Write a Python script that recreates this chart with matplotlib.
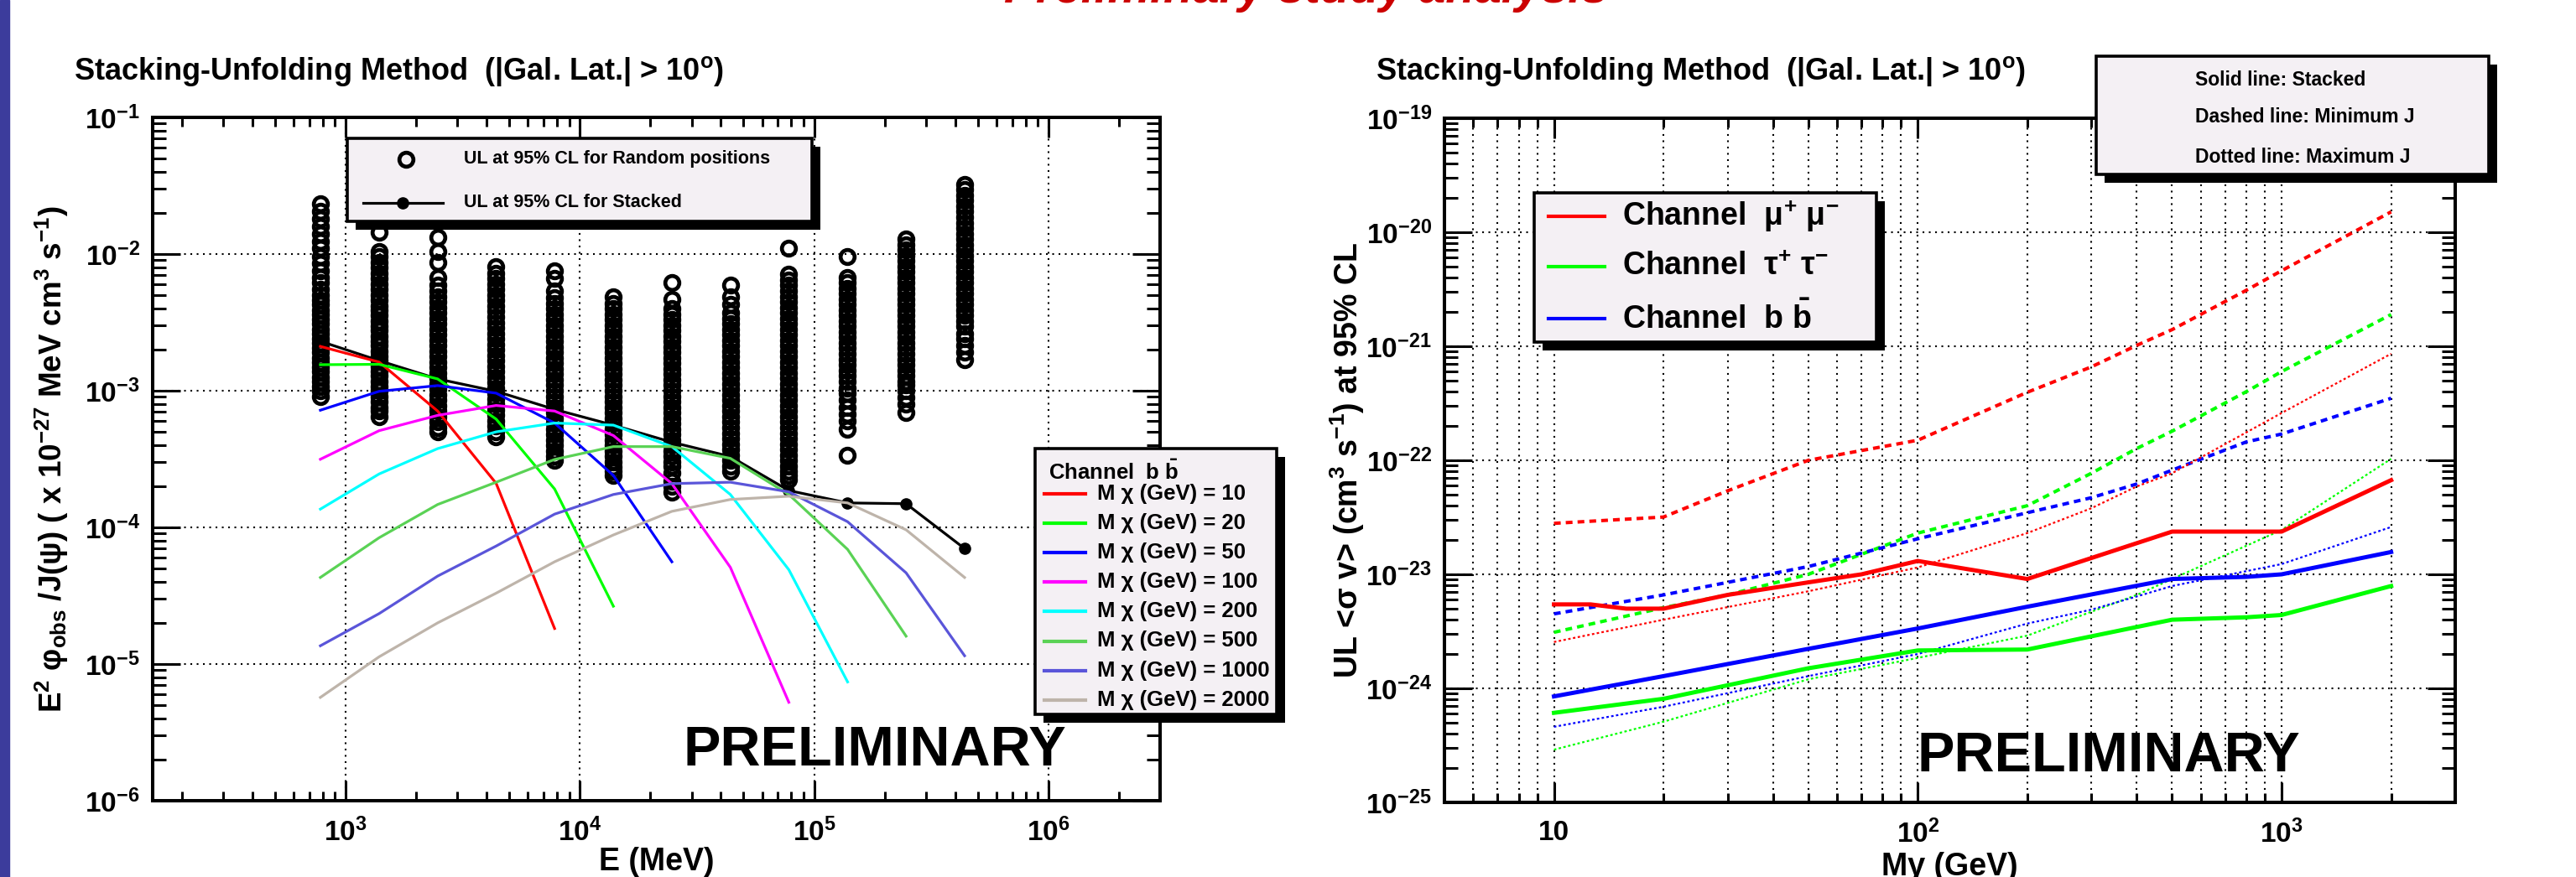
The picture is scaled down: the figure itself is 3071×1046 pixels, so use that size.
import numpy as np
import matplotlib
matplotlib.use('Agg')
import matplotlib.pyplot as plt
from matplotlib.patches import Rectangle
from matplotlib.lines import Line2D
from matplotlib.ticker import FixedLocator, LogLocator, NullFormatter, FuncFormatter

plt.rcParams['font.family'] = ['Liberation Sans', 'DejaVu Sans']
plt.rcParams['font.weight'] = 'bold'
plt.rcParams['axes.labelweight'] = 'bold'
plt.rcParams['mathtext.fontset'] = 'custom'
plt.rcParams['mathtext.rm'] = 'Liberation Sans:bold'
plt.rcParams['mathtext.it'] = 'Liberation Sans:bold'
plt.rcParams['mathtext.bf'] = 'Liberation Sans:bold'
plt.rcParams['mathtext.default'] = 'rm'

# ---------------- left panel: b-bbar spectra vs. UL ----------------
energy = [780, 1390, 2470, 4390, 7800, 13900, 24700, 43900, 78000, 139000, 247000, 439000]

# log10 of the UL for the random sky positions, one column per energy bin
rand_e1 = [-1.63, -1.69, -1.74, -1.80, -1.85, -1.91, -1.96, -2.02, -2.07, -2.12, -2.17, -2.21, -2.26, -2.30,
           -2.34, -2.37, -2.41, -2.44, -2.48, -2.51, -2.55, -2.58, -2.62, -2.65, -2.69, -2.72, -2.76, -2.79,
           -2.83, -2.86, -2.90, -2.93, -2.97, -3.00, -3.04]
rand_e2 = [-1.62, -1.71, -1.84, -1.98, -2.02, -2.06, -2.10, -2.14, -2.18, -2.22, -2.26, -2.30, -2.34, -2.38,
           -2.41, -2.45, -2.49, -2.53, -2.56, -2.60, -2.64, -2.67, -2.71, -2.75, -2.78, -2.82, -2.86, -2.89,
           -2.93, -2.97, -3.00, -3.04, -3.08, -3.12, -3.15, -3.19]
rand_e3 = [-1.88, -1.98, -2.06, -2.17, -2.23, -2.27, -2.31, -2.35, -2.39, -2.43, -2.47, -2.51, -2.55, -2.59,
           -2.63, -2.67, -2.71, -2.75, -2.79, -2.83, -2.87, -2.91, -2.95, -2.99, -3.03, -3.07, -3.11, -3.15,
           -3.19, -3.23, -3.27, -3.30]
rand_e4 = [-2.09, -2.14, -2.18, -2.22, -2.26, -2.30, -2.34, -2.38, -2.42, -2.46, -2.50, -2.54, -2.58, -2.62,
           -2.66, -2.70, -2.74, -2.78, -2.82, -2.86, -2.90, -2.94, -2.98, -3.02, -3.06, -3.10, -3.14, -3.18,
           -3.22, -3.26, -3.30, -3.34]
rand_e5 = [-2.12, -2.18, -2.27, -2.32, -2.36, -2.40, -2.44, -2.48, -2.52, -2.56, -2.60, -2.64, -2.68, -2.72,
           -2.76, -2.80, -2.84, -2.88, -2.92, -2.96, -3.00, -3.04, -3.08, -3.12, -3.16, -3.20, -3.24, -3.28,
           -3.32, -3.36, -3.40, -3.44, -3.48, -3.51]
rand_e6 = [-2.31, -2.36, -2.40, -2.44, -2.48, -2.52, -2.56, -2.60, -2.64, -2.68, -2.72, -2.76, -2.80, -2.84,
           -2.88, -2.92, -2.96, -3.00, -3.04, -3.08, -3.12, -3.16, -3.20, -3.24, -3.28, -3.32, -3.36, -3.40,
           -3.44, -3.48, -3.52, -3.56, -3.59, -3.62]
rand_e7 = [-2.21, -2.33, -2.40, -2.44, -2.48, -2.52, -2.56, -2.60, -2.64, -2.68, -2.72, -2.76, -2.80, -2.84,
           -2.88, -2.92, -2.96, -3.00, -3.04, -3.08, -3.12, -3.16, -3.20, -3.24, -3.28, -3.32, -3.36, -3.40,
           -3.44, -3.48, -3.52, -3.55, -3.60, -3.66, -3.70, -3.74]
rand_e8 = [-2.23, -2.31, -2.37, -2.43, -2.47, -2.51, -2.55, -2.59, -2.63, -2.67, -2.71, -2.75, -2.79, -2.83,
           -2.87, -2.91, -2.95, -2.99, -3.03, -3.07, -3.11, -3.15, -3.19, -3.23, -3.27, -3.31, -3.35, -3.39,
           -3.43, -3.47, -3.51, -3.55, -3.59]
rand_e9 = [-1.96, -2.15, -2.19, -2.23, -2.27, -2.31, -2.35, -2.39, -2.43, -2.47, -2.51, -2.55, -2.59, -2.63,
           -2.67, -2.71, -2.75, -2.79, -2.83, -2.87, -2.91, -2.95, -2.99, -3.03, -3.07, -3.11, -3.15, -3.19,
           -3.23, -3.27, -3.31, -3.35, -3.39, -3.43, -3.47, -3.51, -3.55, -3.59, -3.62, -3.65]
rand_e10 = [-2.02, -2.17, -2.21, -2.25, -2.29, -2.33, -2.37, -2.41, -2.45, -2.49, -2.53, -2.57, -2.61, -2.65,
            -2.69, -2.73, -2.77, -2.81, -2.85, -2.89, -2.93, -2.98, -3.02, -3.07, -3.12, -3.17, -3.22, -3.28,
            -3.47]
rand_e11 = [-1.89, -1.93, -1.97, -2.01, -2.05, -2.09, -2.13, -2.17, -2.21, -2.25, -2.29, -2.33, -2.37, -2.41,
            -2.45, -2.49, -2.53, -2.57, -2.61, -2.65, -2.69, -2.73, -2.77, -2.81, -2.85, -2.89, -2.93, -2.96,
            -3.00, -3.05, -3.10, -3.16]
rand_e12 = [-1.49, -1.53, -1.57, -1.61, -1.65, -1.69, -1.73, -1.77, -1.81, -1.85, -1.89, -1.93, -1.97, -2.01,
            -2.05, -2.09, -2.13, -2.17, -2.21, -2.25, -2.29, -2.33, -2.37, -2.41, -2.45, -2.49, -2.53, -2.58,
            -2.62, -2.67, -2.72, -2.77]
rand_cols = [rand_e1, rand_e2, rand_e3, rand_e4, rand_e5, rand_e6,
             rand_e7, rand_e8, rand_e9, rand_e10, rand_e11, rand_e12]

stacked_ul = [2.30e-3, 1.66e-3, 1.22e-3, 9.9e-4, 7.3e-4, 5.6e-4, 4.2e-4, 3.3e-4, 1.86e-4, 1.51e-4, 1.49e-4, 7.0e-5]

bb_masses = [10, 20, 50, 100, 200, 500, 1000, 2000]
bb_colors = ['#ff0000', '#00ff00', '#0000ff', '#ff00ff', '#00ffff', '#5ad255', '#5a55d9', '#beb4aa']
bb_m10 = [2.11e-3, 1.62e-3, 7.1e-4, 2.1e-4, 1.82e-5]
bb_m20 = [1.55e-3, 1.56e-3, 1.22e-3, 6.2e-4, 1.91e-4, 2.65e-5]
bb_m50 = [7.2e-4, 9.9e-4, 1.09e-3, 9.6e-4, 5.8e-4, 2.4e-4, 5.6e-5]
bb_m100 = [3.15e-4, 5.1e-4, 6.6e-4, 7.8e-4, 7.1e-4, 4.7e-4, 2.09e-4, 5.1e-5, 5.25e-6]
bb_m200 = [1.36e-4, 2.46e-4, 3.77e-4, 5.0e-4, 5.8e-4, 5.6e-4, 3.9e-4, 1.74e-4, 4.9e-5, 7.4e-6]
bb_m500 = [4.3e-5, 8.4e-5, 1.47e-4, 2.14e-4, 3.14e-4, 3.9e-4, 3.9e-4, 3.2e-4, 1.74e-4, 6.9e-5, 1.6e-5]
bb_m1000 = [1.36e-5, 2.34e-5, 4.4e-5, 7.3e-5, 1.25e-4, 1.74e-4, 2.09e-4, 2.14e-4, 1.82e-4, 1.1e-4, 4.65e-5, 1.15e-5]
bb_m2000 = [5.7e-6, 1.13e-5, 2.0e-5, 3.3e-5, 5.6e-5, 8.8e-5, 1.31e-4, 1.6e-4, 1.69e-4, 1.51e-4, 9.6e-5, 4.3e-5]
bb_spectra = [bb_m10, bb_m20, bb_m50, bb_m100, bb_m200, bb_m500, bb_m1000, bb_m2000]

# ---------------- right panel: <sigma v> limits ----------------
mass_mumu = [10, 12.6, 15.8, 20, 30, 50, 70, 100, 200, 500, 1000, 2000]
ul_mumu = [5.45e-24, 5.45e-24, 5.0e-24, 5.0e-24, 6.6e-24, 8.5e-24, 1.0e-23, 1.31e-23, 9.1e-24, 2.37e-23, 2.37e-23, 6.7e-23]
mass_stack = [10, 20, 50, 100, 200, 500, 800, 1000, 2000]
ul_tautau = [6.1e-25, 8.1e-25, 1.5e-24, 2.15e-24, 2.19e-24, 4.0e-24, 4.2e-24, 4.4e-24, 7.9e-24]
ul_bb = [8.5e-25, 1.28e-24, 2.22e-24, 3.35e-24, 5.2e-24, 9.1e-24, 9.5e-24, 1.0e-23, 1.57e-23]

mass_j = [10, 20, 30, 50, 100, 200, 300, 400, 500, 800, 1000, 2000]
minj_mumu = [2.8e-23, 3.18e-23, 5.4e-23, 1.0e-22, 1.5e-22, 3.95e-22, 6.6e-22, 1.02e-21, 1.4e-21, 3.1e-21, 4.6e-21, 1.51e-20]
minj_tautau = [3.1e-24, 5.1e-24, 6.6e-24, 1.0e-23, 2.3e-23, 4.0e-23, 7.7e-23, 1.27e-22, 1.8e-22, 4.0e-22, 6.0e-22, 1.9e-21]
minj_bb = [4.5e-24, 6.6e-24, 8.5e-24, 1.17e-23, 2.05e-23, 3.47e-23, 4.7e-23, 6.2e-23, 8.2e-23, 1.45e-22, 1.7e-22, 3.5e-22]

mass_maxj = [10, 20, 50, 100, 200, 300, 400, 500, 1000, 2000]
maxj_mumu = [2.55e-24, 4.0e-24, 7.1e-24, 1.15e-23, 2.3e-23, 3.8e-23, 5.9e-23, 7.7e-23, 2.6e-22, 8.6e-22]
maxj_tautau = [2.9e-25, 5.1e-25, 1.2e-24, 1.85e-24, 2.9e-24, 4.7e-24, 6.6e-24, 9.1e-24, 2.45e-23, 1.03e-22]
maxj_bb = [4.6e-25, 6.9e-25, 1.28e-24, 2.0e-24, 3.7e-24, 4.9e-24, 6.4e-24, 7.9e-24, 1.23e-23, 2.6e-23]

# ---------------- figure ----------------
W, H = 3071, 1046
fig = plt.figure(figsize=(W / 100, H / 100), dpi=100)


def fx(p):
    return p / W


def fy(p):
    return 1 - p / H


axL = fig.add_axes([fx(182), fy(955), (1383 - 182) / W, (955 - 140) / H])
axR = fig.add_axes([fx(1722), fy(957), (2927 - 1722) / W, (957 - 141) / H])

grid_style = dict(color='k', lw=1.5, ls=(0, (1, 2.6)))


def pow_label(v, pos):
    return '10$^{%d}$' % int(round(np.log10(v)))


def style_axes(ax):
    ax.set_xscale('log')
    ax.set_yscale('log')
    for s in ax.spines.values():
        s.set_linewidth(2.9)
    ax.tick_params(which='both', direction='in', top=True, right=True, width=2.2, labelsize=24)
    ax.tick_params(axis='y', which='major', length=24, pad=11)
    ax.tick_params(axis='y', which='minor', length=11.5)
    ax.tick_params(axis='x', which='major', length=17, pad=15)
    ax.tick_params(axis='x', which='minor', length=8)
    ax.yaxis.set_major_locator(LogLocator(base=10, numticks=20))
    ax.yaxis.set_minor_locator(LogLocator(base=10, subs=np.arange(2, 10), numticks=20))
    ax.yaxis.set_major_formatter(FuncFormatter(pow_label))
    ax.yaxis.set_minor_formatter(NullFormatter())
    ax.xaxis.set_minor_locator(LogLocator(base=10, subs=np.arange(2, 10), numticks=20))
    ax.xaxis.set_minor_formatter(NullFormatter())


# left panel
style_axes(axL)
axL.set_xlim(150, 3.0e6)
axL.set_ylim(1e-6, 1e-1)
axL.xaxis.set_major_locator(FixedLocator([1e3, 1e4, 1e5, 1e6]))
axL.xaxis.set_major_formatter(FuncFormatter(pow_label))
axL.grid(True, which='major', **grid_style)
axL.set_axisbelow(True)

rand_marker = dict(ls='none', marker='o', ms=12, mfc='none', mec='k', mew=3.4)
for e, logs in zip(energy, rand_cols):
    axL.plot([e] * len(logs), 10 ** np.array(logs), zorder=2, **rand_marker)
axL.plot(energy, stacked_ul, color='k', lw=2.3, marker='o', ms=9.5, zorder=3)
for spec, col in zip(bb_spectra, bb_colors):
    axL.plot(energy[:len(spec)], spec, color=col, lw=2.3, zorder=4)

axL.set_xlabel('E (MeV)', fontsize=27)
axL.xaxis.set_label_coords(0.5, -(1010 - 955) / 815)
axL.set_ylabel('E$^{2}$ φ$_{obs}$ /J(ψ) ( x 10$^{-27}$ MeV cm$^{3}$ s$^{-1}$)', fontsize=26.5)
axL.yaxis.label.set_va('center')
axL.yaxis.set_label_coords((62 - 182) / 1201, 0.5)

# right panel
style_axes(axR)
axR.set_xlim(5, 3000)
axR.set_ylim(1e-25, 1e-19)
axR.xaxis.set_major_locator(FixedLocator([10, 100, 1000]))
axR.xaxis.set_major_formatter(FuncFormatter(lambda v, p: '10' if v < 50 else pow_label(v, p)))
axR.xaxis.grid(True, which='both', **grid_style)
axR.yaxis.grid(True, which='major', **grid_style)
axR.set_axisbelow(True)

chan_colors = ['#ff0000', '#00ff00', '#0000ff']
axR.plot(mass_mumu, ul_mumu, color=chan_colors[0], lw=3.6, zorder=4)
axR.plot(mass_stack, ul_tautau, color=chan_colors[1], lw=3.6, zorder=4)
axR.plot(mass_stack, ul_bb, color=chan_colors[2], lw=3.6, zorder=4)
for vals, col in zip([minj_mumu, minj_tautau, minj_bb], chan_colors):
    axR.plot(mass_j, vals, color=col, lw=2.9, ls=(0, (2.0, 1.5)), zorder=3)
for vals, col in zip([maxj_mumu, maxj_tautau, maxj_bb], chan_colors):
    axR.plot(mass_maxj, vals, color=col, lw=1.6, ls=(0, (1.3, 1.3)), zorder=3)

axR.set_xlabel('Mγ (GeV)', fontsize=27)
axR.xaxis.set_label_coords(0.5, -(1016 - 957) / 816)
axR.set_ylabel('UL <σ v> (cm$^{3}$ s$^{-1}$) at 95% CL', fontsize=27)
axR.yaxis.label.set_va('center')
axR.yaxis.set_label_coords((1606 - 1722) / 1205, 0.5)

# ---------------- titles, legends, decorations ----------------
title = 'Stacking-Unfolding Method  (|Gal. Lat.| > 10$^{o}$)'
fig.text(fx(88), fy(95), title, fontsize=26, va='baseline')
fig.text(fx(1640), fy(95), title, fontsize=26, va='baseline')

fig.text(fx(815), fy(913), 'PRELIMINARY', fontsize=48, va='baseline', zorder=10)
fig.text(fx(2286), fy(920), 'PRELIMINARY', fontsize=48, va='baseline', zorder=10)

legend_fill = '#f4f0f4'


def legend_frame(x0, y0, x1, y1):
    w, h = (x1 - x0) / W, (y1 - y0) / H
    fig.add_artist(Rectangle((fx(x0 + 10), fy(y1 + 10)), w, h, transform=fig.transFigure,
                             fc='k', ec='none', zorder=20))
    fig.add_artist(Rectangle((fx(x0), fy(y1)), w, h, transform=fig.transFigure,
                             fc=legend_fill, ec='k', lw=2.6, zorder=21))


def key_line(x0, x1, y, **kw):
    fig.add_artist(Line2D([fx(x0), fx(x1)], [fy(y), fy(y)], transform=fig.transFigure, zorder=22, **kw))


def key_text(x, y, s, fs):
    fig.text(fx(x), fy(y), s, fontsize=fs, va='center', ha='left', zorder=23)


# left: random vs stacked
legend_frame(414, 165, 968, 264)
fig.add_artist(Line2D([fx(484)], [fy(190)], transform=fig.transFigure, zorder=22, **rand_marker))
key_text(553, 190, 'UL at 95% CL for Random positions', 15.5)
key_line(433, 528, 242, color='k', lw=2.3)
fig.add_artist(Line2D([fx(480)], [fy(242)], transform=fig.transFigure, ls='none', marker='o', ms=9.5,
                      color='k', zorder=22))
key_text(553, 242, 'UL at 95% CL for Stacked', 15.5)

# left: channel b bbar masses
legend_frame(1234, 535, 1522, 852)
key_text(1250, 563, 'Channel  b $\\bar{b}$', 18.5)
for i, (m, col) in enumerate(zip(bb_masses, bb_colors)):
    yk = 589 + i * 35.1
    key_line(1245, 1294, yk, color=col, lw=3.0)
    key_text(1308, yk, 'M χ (GeV) = %d' % m, 18.5)

# right: channels
legend_frame(1829, 230, 2237, 408)
chan_labels = ['Channel  μ$^{+}$ μ$^{-}$', 'Channel  τ$^{+}$ τ$^{-}$', 'Channel  b $\\bar{b}$']
for yk, lab, col in zip([258, 318, 380], chan_labels, chan_colors):
    key_line(1846, 1913, yk, color=col, lw=3.0)
    key_text(1934, yk, lab, 27)

# right: line styles
legend_frame(2499, 67, 2967, 208)
for yk, lab in zip([95, 140, 187], ['Solid line: Stacked', 'Dashed line: Minimum J', 'Dotted line: Maximum J']):
    key_text(2617, yk, lab, 16.5)

# slide decorations
fig.add_artist(Rectangle((0, 0), 11 / W, 1, transform=fig.transFigure, color='#3c3c9c', zorder=30))
fig.text(fx(1557), fy(3), 'Preliminary study analysis', fontsize=41, style='italic',
         color='#cc0000', ha='center', va='baseline')

fig.savefig('out.png', dpi=100)
